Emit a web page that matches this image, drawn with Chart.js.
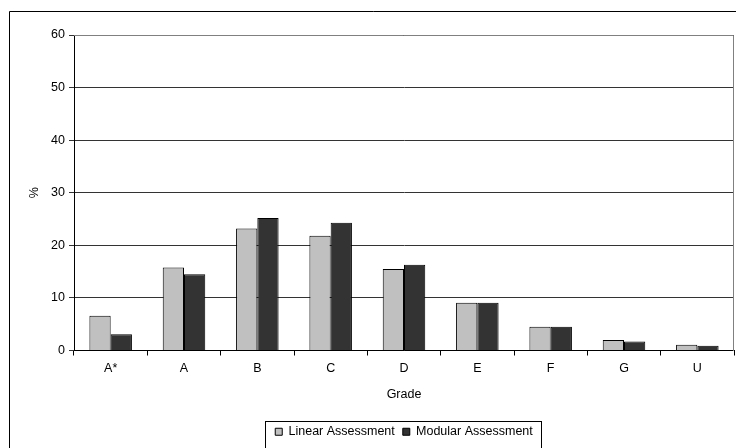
<!DOCTYPE html>
<html>
<head>
<meta charset="utf-8">
<script src="https://cdn.jsdelivr.net/npm/chart.js@4"></script>
<style>
  html, body { margin: 0; padding: 0; background: #fff; }
  canvas { display: block; }
</style>
</head>
<body>
<canvas id="grade-chart" width="736" height="448"></canvas>
<script>
const grades = ['A*', 'A', 'B', 'C', 'D', 'E', 'F', 'G', 'U'];
const linearPct = [6.6, 15.8, 23.2, 21.8, 15.5, 9.1, 4.5, 2.0, 1.1];
const modularPct = [3.1, 14.5, 25.2, 24.3, 16.3, 9.1, 4.5, 1.7, 0.9];
const yMax = 60;
const yStep = 10;

Chart.defaults.font.family = "'Liberation Sans', Arial, sans-serif";
Chart.defaults.font.size = 12.5;
Chart.defaults.color = '#000';

// white background, outer frame, grey plot border and the box round the legend
const framePlugin = {
  id: 'frame',
  beforeDraw(chart) {
    const ctx = chart.ctx;
    ctx.save();
    ctx.fillStyle = '#fff';
    ctx.fillRect(0, 0, chart.width, chart.height);
    ctx.restore();
  },
  afterDraw(chart) {
    const ctx = chart.ctx;
    const a = chart.chartArea;
    ctx.save();
    ctx.lineWidth = 1;
    ctx.strokeStyle = '#808080';
    ctx.beginPath();
    ctx.moveTo(Math.round(a.left), Math.round(a.top) + 0.5);
    ctx.lineTo(Math.round(a.right) - 0.5, Math.round(a.top) + 0.5);
    ctx.lineTo(Math.round(a.right) - 0.5, Math.round(a.bottom));
    ctx.stroke();

    ctx.strokeStyle = '#000';
    ctx.beginPath();
    ctx.moveTo(9.5, chart.height + 2);
    ctx.lineTo(9.5, 11.5);
    ctx.lineTo(chart.width + 2, 11.5);
    ctx.stroke();

    const boxes = chart.legend.legendHitBoxes;
    if (boxes && boxes.length) {
      const first = boxes[0];
      const last = boxes[boxes.length - 1];
      const x0 = Math.round(first.left - 10) + 0.5;
      const x1 = Math.round(last.left + last.width + 8) + 0.5;
      const y0 = Math.round(first.top - 5) + 0.5;
      const y1 = Math.round(first.top + first.height + 10) + 0.5;
      ctx.strokeRect(x0, y0, x1 - x0, y1 - y0);
    }
    ctx.restore();
  }
};

new Chart(document.getElementById('grade-chart'), {
  type: 'bar',
  data: {
    labels: grades,
    datasets: [{
      label: 'Linear Assessment',
      data: linearPct,
      backgroundColor: '#C0C0C0',
      borderColor: '#000',
      borderWidth: 1
    }, {
      label: 'Modular Assessment',
      data: modularPct,
      backgroundColor: '#333333',
      borderColor: '#000',
      borderWidth: 1
    }]
  },
  options: {
    responsive: false,
    animation: false,
    categoryPercentage: 0.58,
    barPercentage: 1.0,
    layout: {
      padding: { left: 9, top: 35, right: 2, bottom: 0 }
    },
    plugins: {
      tooltip: { enabled: false },
      legend: {
        position: 'bottom',
        fullSize: false,
        labels: {
          boxWidth: 7,
          boxHeight: 7,
          padding: 8
        }
      }
    },
    scales: {
      x: {
        offset: true,
        afterFit(scale) { scale.height = 67; },
        grid: {
          offset: true,
          drawOnChartArea: false,
          drawTicks: true,
          tickLength: 5,
          color: '#000'
        },
        border: { color: '#000' },
        ticks: { padding: 6 },
        title: {
          display: true,
          text: 'Grade',
          padding: { top: 4, bottom: 15 }
        }
      },
      y: {
        min: 0,
        max: yMax,
        afterFit(scale) { scale.width = 65; },
        grid: {
          color: '#333',
          tickLength: 5
        },
        border: { color: '#000' },
        ticks: {
          stepSize: yStep,
          padding: 4
        },
        title: {
          display: true,
          text: '%',
          padding: { top: 18, bottom: 0 }
        }
      }
    }
  },
  plugins: [framePlugin]
});
</script>
</body>
</html>
